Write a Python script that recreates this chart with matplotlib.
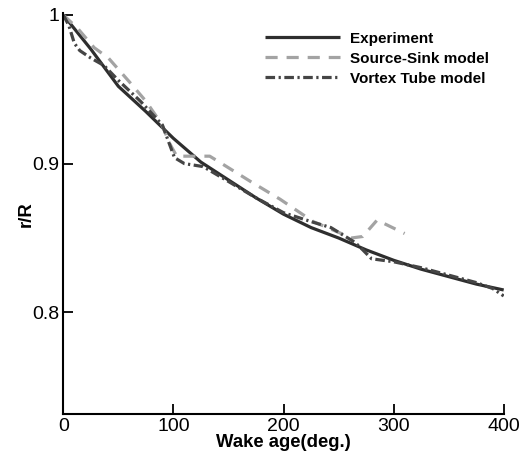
import matplotlib
matplotlib.use("Agg")
import matplotlib.pyplot as plt
from matplotlib.ticker import FixedLocator, FixedFormatter

plt.rcParams['font.family'] = ['Liberation Sans', 'DejaVu Sans']

# Experiment
exp_x = [0, 25, 50, 75, 100, 125, 150, 175, 200, 225, 250, 275, 300, 325, 350, 375, 400]
exp_y = [1.0, 0.977, 0.952, 0.935, 0.917, 0.901, 0.889, 0.877, 0.866, 0.857, 0.850,
         0.842, 0.835, 0.829, 0.824, 0.819, 0.815]

# Source-Sink model
ss_x = [0, 13, 28, 41, 60, 75, 89, 97, 103, 133, 144, 170, 197, 211, 227, 262, 272, 285, 310]
ss_y = [1.0, 0.991, 0.978, 0.971, 0.955, 0.942, 0.927, 0.913, 0.905, 0.905, 0.900, 0.888,
        0.876, 0.869, 0.861, 0.850, 0.851, 0.862, 0.853]

# Vortex Tube model
vt_x = [0, 5, 10, 15, 25, 37, 50, 70, 90, 97, 101, 110, 127, 150, 175, 200, 225, 243,
        265, 272, 280, 300, 325, 350, 375, 390, 400]
vt_y = [1.0, 0.993, 0.981, 0.976, 0.971, 0.966, 0.956, 0.942, 0.926, 0.912, 0.904, 0.900,
        0.898, 0.888, 0.877, 0.867, 0.861, 0.857, 0.847, 0.842, 0.836, 0.834, 0.830,
        0.825, 0.820, 0.816, 0.811]

x_ticks = [0, 100, 200, 300, 400]
y_ticks = [0.8, 0.9, 1.0]
y_tick_labels = ['0.8', '0.9', '1']

fig = plt.figure(figsize=(5.24, 4.57), dpi=100)
ax = fig.add_axes([63.3/524, 1 - 414.3/457, (503.7-63.3)/524, (414.3-13)/457])

ax.plot(exp_x, exp_y, color='#2e2e2e', lw=2.3, solid_capstyle='butt', label='Experiment')
ax.plot(ss_x, ss_y, color='#a3a3a3', lw=2.3, linestyle=(0, (3.8, 2.8)), label='Source-Sink model')
ax.plot(vt_x, vt_y, color='#454545', lw=2.3, linestyle=(0, (3.0, 1.1, 0.7, 1.1)), label='Vortex Tube model')

ax.set_xlim(0, 400)
ax.set_ylim(0.7314, 1.0013)
ax.spines['top'].set_visible(False)
ax.spines['right'].set_visible(False)
for s in ['left', 'bottom']:
    ax.spines[s].set_linewidth(1.5)
ax.xaxis.set_major_locator(FixedLocator(x_ticks))
ax.yaxis.set_major_locator(FixedLocator(y_ticks))
ax.yaxis.set_major_formatter(FixedFormatter(y_tick_labels))
ax.tick_params(direction='in', length=7, width=1.3, labelsize=14, pad=3)

ax.set_xlabel('Wake age(deg.)', fontsize=13.3, fontweight='bold', labelpad=-1)
ax.set_ylabel('r/R', fontsize=13.3, fontweight='bold', labelpad=-2)

leg = ax.legend(loc='upper left', bbox_to_anchor=(265/524, 1 - 31.5/457),
                bbox_transform=fig.transFigure, frameon=False, fontsize=11,
                handlelength=4.9, handletextpad=0.65, labelspacing=0.4, borderpad=0,
                borderaxespad=0)
for t in leg.get_texts():
    t.set_fontweight('bold')

fig.savefig('out.png', dpi=100)
